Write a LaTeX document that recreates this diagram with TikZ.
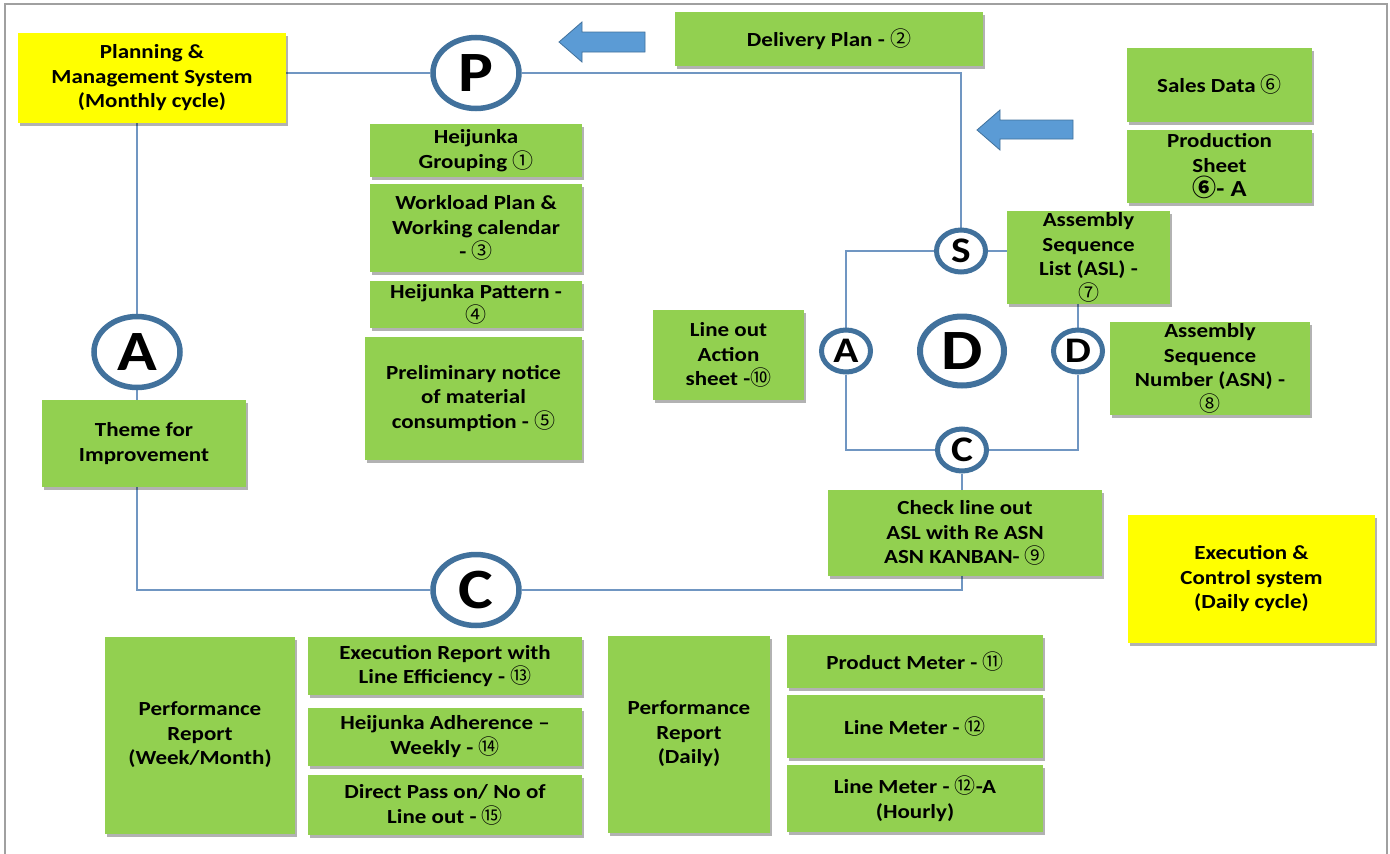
\documentclass[tikz,border=0pt]{standalone}
\usepackage{fontspec}
\setmainfont{Carlito}[FakeStretch=1.15]
\newfontfamily\cnum{Noto Sans CJK SC}
\usetikzlibrary{shapes.geometric,shadows,backgrounds}

\definecolor{gfill}{HTML}{92D050}
\definecolor{yfill}{HTML}{FFFF00}
\definecolor{ringc}{HTML}{41719C}
\definecolor{wirec}{HTML}{7096C2}
\definecolor{arrowc}{HTML}{5B9BD5}
\definecolor{framec}{HTML}{A0A0A0}

\newcommand\boxfont{\fontsize{20}{24.5}\selectfont\bfseries}
\newcommand\cn[1]{{\cnum\mdseries\fontsize{21}{24.5}\selectfont #1}}

\tikzset{
  box/.style={rectangle, inner sep=2pt, align=center, font=\boxfont,
    drop shadow={shadow xshift=2pt, shadow yshift=-3pt, opacity=0.3, fill=black}},
  gbox/.style={box, fill=gfill},
  ybox/.style={box, fill=yfill},
  ring/.style={ellipse, draw=ringc, fill=white, inner sep=0pt},
  bigring/.style={ring, line width=5.5pt, minimum width=86pt, minimum height=71pt,
    font=\fontsize{57}{60}\selectfont\bfseries},
  smallring/.style={ring, line width=5pt, minimum width=49pt, minimum height=42pt,
    font=\fontsize{36}{40}\selectfont\bfseries},
  wire/.style={draw=wirec, line width=1.5pt},
  blockarrow/.style={fill=arrowc, draw=ringc, line width=0.8pt, line join=miter}
}

\begin{document}
\begin{tikzpicture}[x=1pt, y=-1pt]
\useasboundingbox (0,0) rectangle (1390,854);

% monthly planning loop
\node[ybox, minimum width=268pt, minimum height=90pt] (pms) at (152,78)
  {Planning \&\\Management System\\(Monthly cycle)};
\node[gbox, minimum width=308pt, minimum height=54pt] (delivery) at (829,39)
  {Delivery Plan - \cn{②}};
\node[bigring] (P) at (476,73) {P};
\node[bigring] (bigA) at (137,352) {A};
\node[bigring] (bigC) at (476,590) {C};

\node[gbox, minimum width=212pt, minimum height=53pt] (grouping) at (476,150.5)
  {Heijunka\\Grouping \cn{①}};
\node[gbox, minimum width=212pt, minimum height=88pt] (workload) at (476,228)
  {Workload Plan \&\\Working calendar\\- \cn{③}};
\node[gbox, minimum width=212pt, minimum height=47pt] (pattern) at (476,304.5)
  {Heijunka Pattern -\\\cn{④}};
\node[gbox, minimum width=217pt, minimum height=123pt] (prelim) at (473.5,398.5)
  {Preliminary notice\\of material\\consumption - \cn{⑤}};
\node[gbox, minimum width=204pt, minimum height=87pt] (theme) at (144,443.5)
  {Theme for\\Improvement};

% inputs on the right
\node[gbox, minimum width=185pt, minimum height=74pt] (sales) at (1219.5,85)
  {Sales Data \cn{⑥}};
\node[gbox, minimum width=185pt, minimum height=73pt] (prodsheet) at (1219.5,166.5)
  {Production\\Sheet\\{\fontsize{23}{24}\selectfont{\cnum\fontsize{24}{24}\selectfont ⑥}- A}};

% daily execution loop
\node[smallring] (S) at (961,251) {S};
\node[smallring] (sA) at (846,351) {A};
\node[bigring, line width=6pt, minimum width=84pt, minimum height=69pt] (bigD) at (962,351) {D};
\node[smallring] (sD) at (1078,351) {D};
\node[smallring] (sC) at (962,450) {C};

\node[gbox, minimum width=163pt, minimum height=75pt] (asl) at (1088.5,257.5)
  {Assembly\\Sequence\\List (ASL) -\\\cn{⑦}};
\node[gbox, minimum width=151pt, minimum height=90pt] (lineout) at (728.5,355)
  {Line out\\Action\\sheet -\cn{⑩}};
\node[gbox, minimum width=200pt, minimum height=87pt] (asn) at (1210,368.5)
  {Assembly\\Sequence\\Number (ASN) -\\\cn{⑧}};
\node[gbox, minimum width=274pt, minimum height=86pt] (check) at (965,533)
  {Check line out\\ASL with Re ASN\\ASN KANBAN- \cn{⑨}};
\node[ybox, minimum width=247pt, minimum height=128pt] (exec) at (1251.5,579)
  {Execution \&\\Control system\\(Daily cycle)};

% reports
\node[gbox, minimum width=190pt, minimum height=197pt] (perfw) at (200,735)
  {Performance\\Report\\(Week/Month)};
\node[gbox, minimum width=274pt, minimum height=58pt] (exrep) at (445,666)
  {Execution Report with\\Line Efficiency - \cn{⑬}};
\node[gbox, minimum width=274pt, minimum height=58pt] (adher) at (445,736.5)
  {Heijunka Adherence –\\Weekly - \cn{⑭}};
\node[gbox, minimum width=274pt, minimum height=60pt] (direct) at (445,805)
  {Direct Pass on/ No of\\Line out - \cn{⑮}};
\node[gbox, minimum width=162pt, minimum height=197pt] (perfd) at (689,734)
  {Performance\\Report\\(Daily)};
\node[gbox, minimum width=256pt, minimum height=53pt] (prodm) at (915,661.5)
  {Product Meter - \cn{⑪}};
\node[gbox, minimum width=256pt, minimum height=63pt] (linem) at (915,726.5)
  {Line Meter - \cn{⑫}};
\node[gbox, minimum width=256pt, minimum height=67pt] (linema) at (915,798.5)
  {Line Meter - \cn{⑫}-A\\(Hourly)};

% block arrows feeding the loops
\filldraw[blockarrow] (559,42) -- (582,22) -- (582,32) -- (645,32) -- (645,52)
  -- (582,52) -- (582,62) -- cycle;
\filldraw[blockarrow] (977,130) -- (1000,110) -- (1000,120) -- (1073,120)
  -- (1073,139) -- (1000,139) -- (1000,150) -- cycle;

\begin{scope}[on background layer]
  % page frame
  \draw[framec, line width=2pt] (5,860) -- (5,4) -- (1387,4) -- (1387,860);
  % monthly PDCA loop
  \draw[wire] (P.west -| pms.east) -- (P.west);
  \draw[wire] (P.east) -- (P.east -| S) -- (S.north);
  \draw[wire] (bigA |- pms.south) -- (bigA.north);
  \draw[wire] (bigA.south) -- (bigA |- theme.north);
  \draw[wire] (bigA |- theme.south) -- (bigA |- bigC) -- (bigC.west);
  \draw[wire] (bigC.east) -- (bigC -| sC) -- (sC |- check.south);
  % daily SDCA loop
  \draw[wire] (S.east) -- (S -| asl.west);
  \draw[wire] (S.west) -- (S -| sA) -- (sA.north);
  \draw[wire] (sA.south) -- (sA |- sC) -- (sC.west);
  \draw[wire] (sC.east) -- (sC -| sD) -- (sD.south);
  \draw[wire] (sD.north) -- (sD |- asl.south);
  \draw[wire] (sC.south) -- (sC |- check.north);
\end{scope}
\end{tikzpicture}
\end{document}
